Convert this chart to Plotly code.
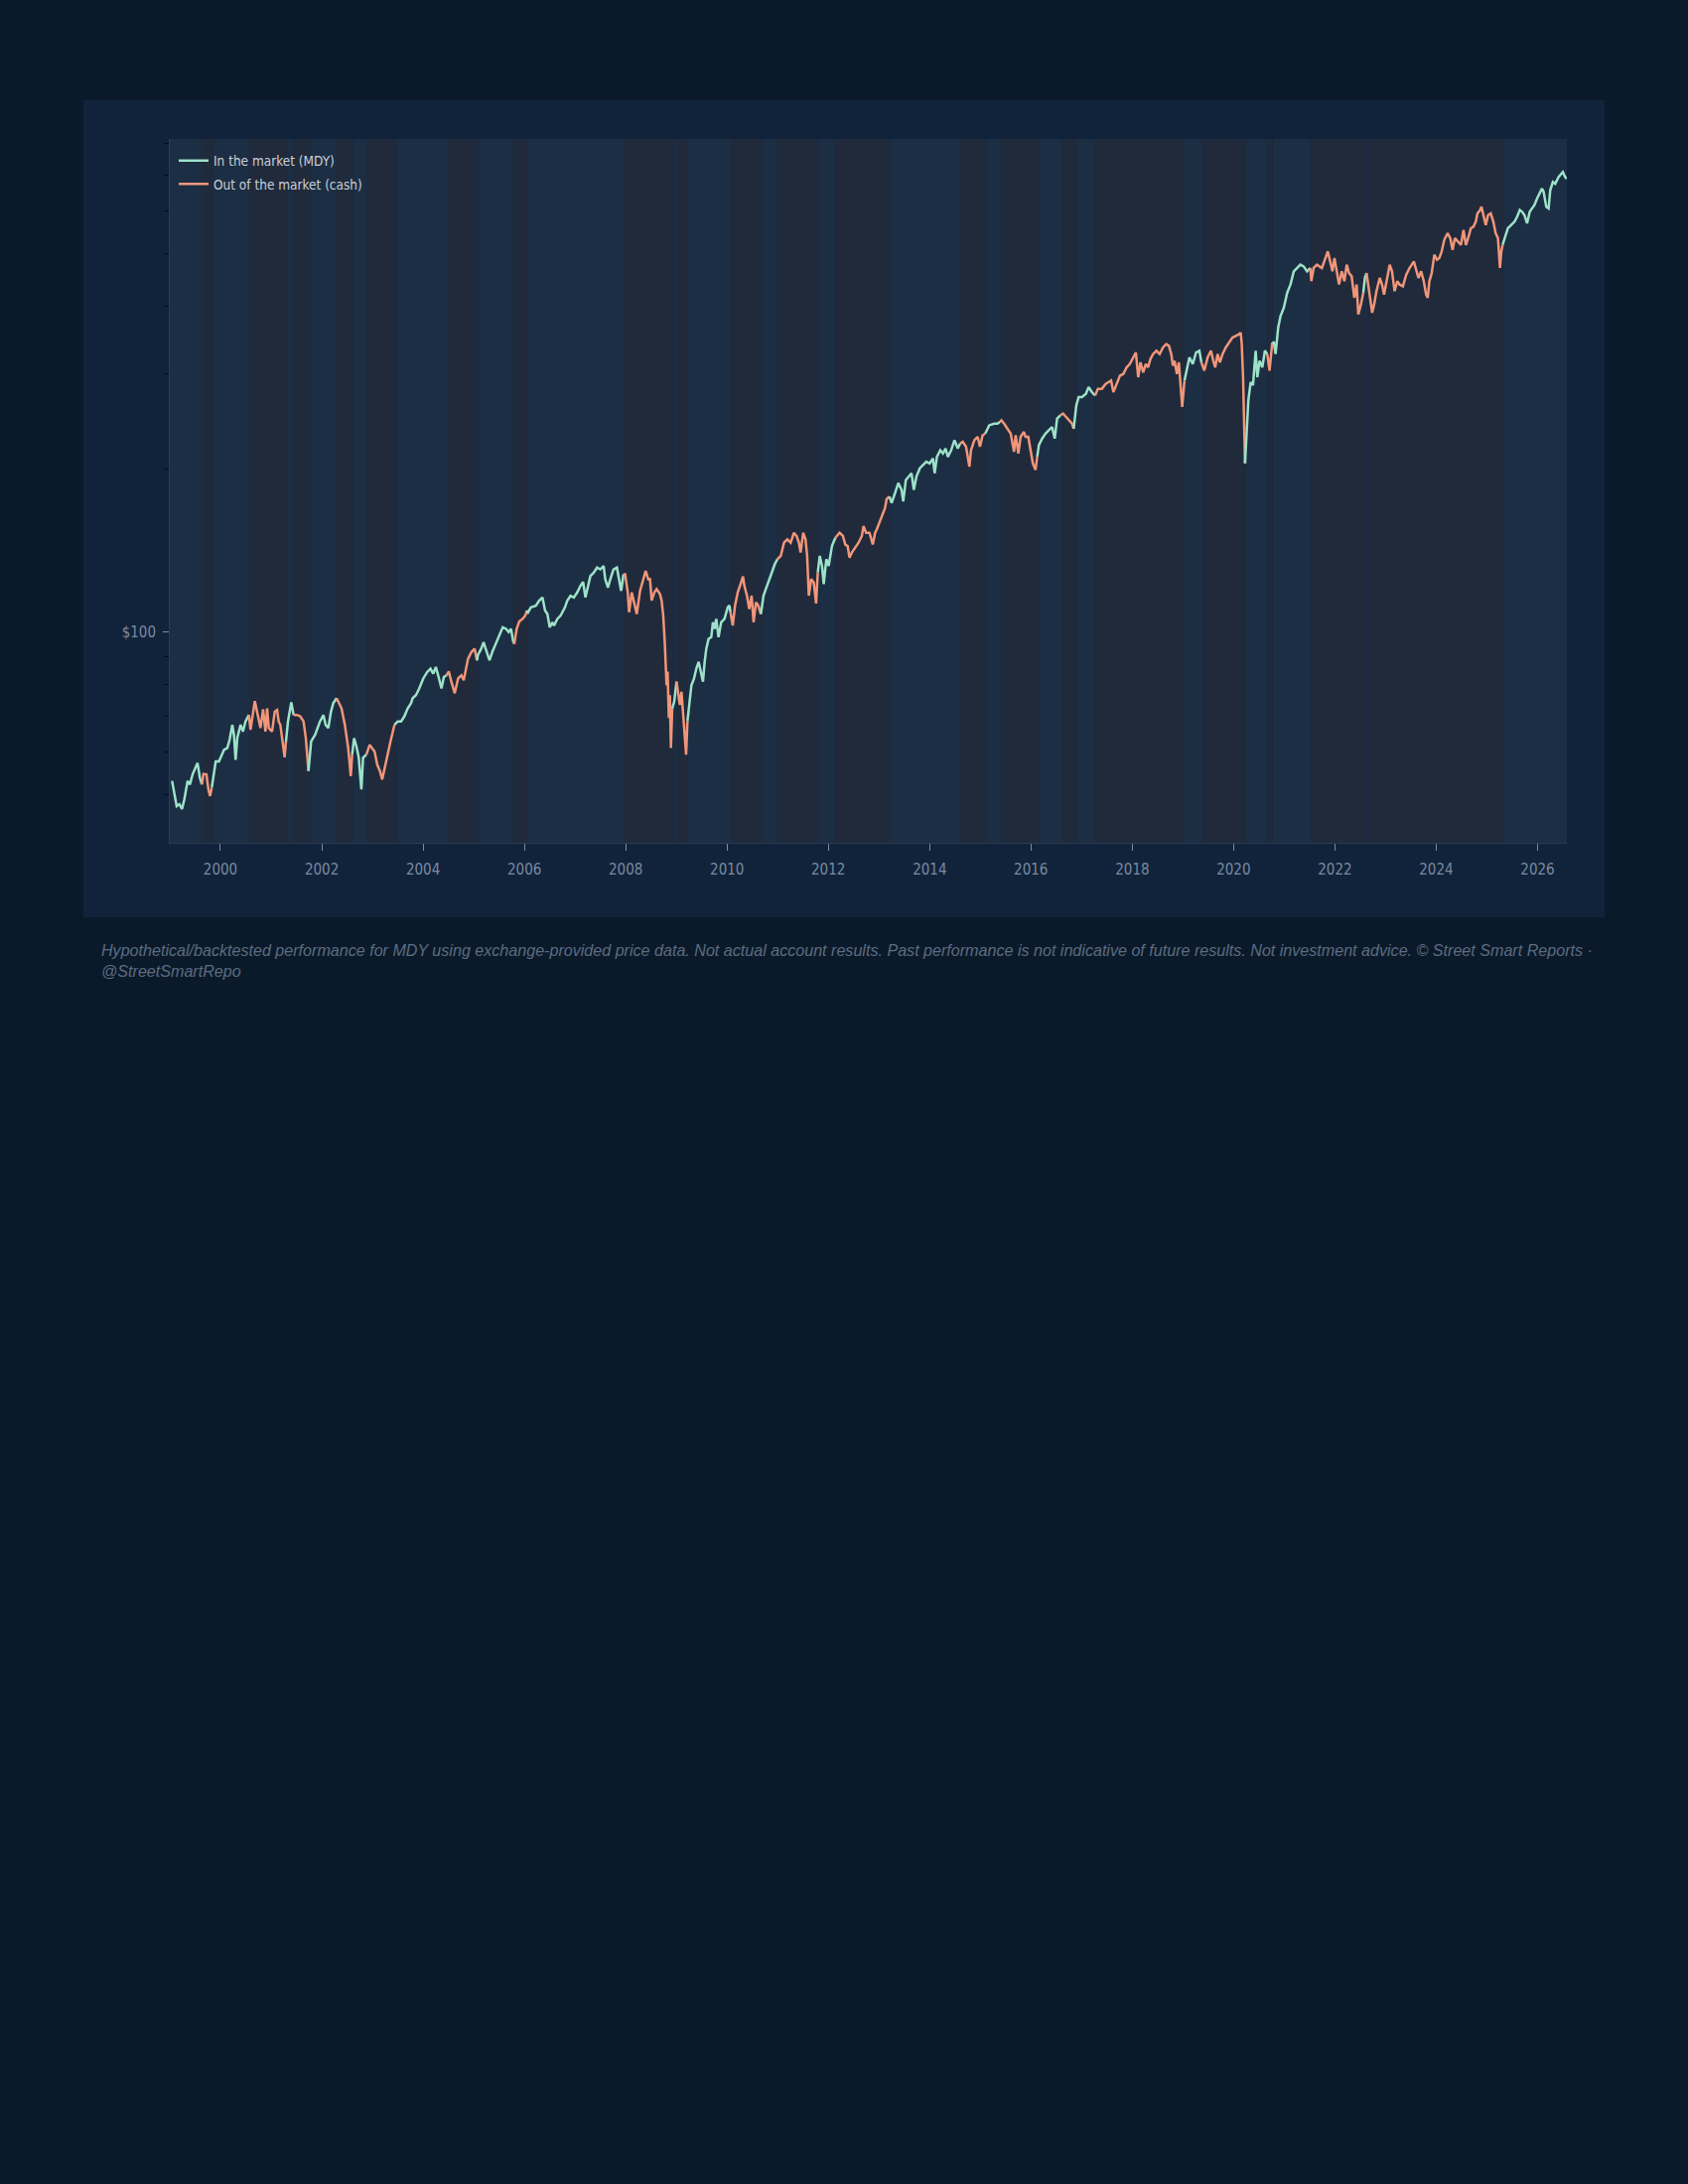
import pandas as pd
import plotly.graph_objects as go

# ---------------- data ----------------
years = [
    1999.045, 1999.090, 1999.136, 1999.189, 1999.241, 1999.287, 1999.352, 1999.398, 1999.450, 1999.548,
    1999.594, 1999.633, 1999.665, 1999.724, 1999.763, 1999.796, 1999.829, 1999.861, 1999.907, 1999.972,
    2000.025, 2000.071, 2000.136, 2000.182, 2000.234, 2000.267, 2000.299, 2000.332, 2000.397, 2000.443,
    2000.495, 2000.561, 2000.593, 2000.678, 2000.724, 2000.789, 2000.841, 2000.887, 2000.920, 2000.953,
    2001.018, 2001.070, 2001.116, 2001.148, 2001.181, 2001.227, 2001.266, 2001.292, 2001.332, 2001.397,
    2001.443, 2001.508, 2001.573, 2001.639, 2001.684, 2001.737, 2001.789, 2001.867, 2001.965,
    2002.031, 2002.076, 2002.129, 2002.181, 2002.227, 2002.292, 2002.338, 2002.390, 2002.455, 2002.521,
    2002.573, 2002.599, 2002.638, 2002.684, 2002.730, 2002.782, 2002.815, 2002.880, 2002.945, 2002.991,
    2003.043, 2003.095, 2003.148, 2003.193, 2003.239, 2003.292, 2003.357, 2003.435, 2003.501, 2003.566,
    2003.631, 2003.697, 2003.762, 2003.795, 2003.860, 2003.925,
    2004.004, 2004.082, 2004.147, 2004.200, 2004.252, 2004.298, 2004.363, 2004.409, 2004.461, 2004.507,
    2004.559, 2004.624, 2004.690, 2004.755, 2004.801, 2004.853, 2004.886, 2004.951,
    2005.016, 2005.062, 2005.082, 2005.147, 2005.193, 2005.245, 2005.310, 2005.363, 2005.428, 2005.506,
    2005.572, 2005.637, 2005.689, 2005.735, 2005.781, 2005.800, 2005.846, 2005.898, 2005.964,
    2006.016, 2006.049, 2006.072, 2006.127, 2006.225, 2006.290, 2006.356, 2006.408, 2006.454, 2006.499,
    2006.552, 2006.584, 2006.650, 2006.715, 2006.800, 2006.846, 2006.911, 2006.976,
    2007.042, 2007.107, 2007.159, 2007.205, 2007.257, 2007.303, 2007.368, 2007.434, 2007.499, 2007.564,
    2007.597, 2007.649, 2007.695, 2007.760, 2007.826, 2007.858, 2007.911, 2007.956, 2007.989,
    2008.041, 2008.067, 2008.120, 2008.172, 2008.218, 2008.283, 2008.349, 2008.394, 2008.446, 2008.479,
    2008.512, 2008.564, 2008.610, 2008.675, 2008.708, 2008.740, 2008.773, 2008.793, 2008.806, 2008.825,
    2008.851, 2008.871, 2008.891, 2008.917, 2008.956,
    2009.002, 2009.034, 2009.067, 2009.100, 2009.132, 2009.165, 2009.191, 2009.217, 2009.250, 2009.296,
    2009.348, 2009.394, 2009.439, 2009.492, 2009.524, 2009.557, 2009.590, 2009.635, 2009.688, 2009.720,
    2009.753, 2009.786, 2009.831, 2009.884, 2009.949,
    2010.014, 2010.047, 2010.067, 2010.112, 2010.158, 2010.210, 2010.276, 2010.315, 2010.341, 2010.393,
    2010.439, 2010.485, 2010.524, 2010.570, 2010.615, 2010.668, 2010.720, 2010.766, 2010.831, 2010.896,
    2010.942, 2010.994,
    2011.060, 2011.125, 2011.190, 2011.256, 2011.321, 2011.373, 2011.419, 2011.452, 2011.504, 2011.550,
    2011.582, 2011.615, 2011.661, 2011.713, 2011.759, 2011.792, 2011.831, 2011.876, 2011.909, 2011.961,
    2012.007, 2012.072, 2012.138, 2012.170, 2012.223, 2012.288, 2012.334, 2012.380, 2012.419, 2012.464,
    2012.530, 2012.595, 2012.660, 2012.693, 2012.745, 2012.811, 2012.876, 2012.922, 2012.955,
    2013.020, 2013.072, 2013.118, 2013.150, 2013.203, 2013.248, 2013.314, 2013.379, 2013.444, 2013.477,
    2013.529, 2013.575, 2013.640, 2013.686, 2013.738, 2013.804, 2013.869, 2013.934,
    2014.000, 2014.065, 2014.098, 2014.143, 2014.209, 2014.261, 2014.313, 2014.359, 2014.424, 2014.490,
    2014.555, 2014.601, 2014.653, 2014.718, 2014.784, 2014.816, 2014.882, 2014.947, 2014.993,
    2015.045, 2015.097, 2015.123, 2015.176, 2015.274, 2015.339, 2015.385, 2015.417, 2015.470, 2015.535,
    2015.600, 2015.666, 2015.698, 2015.751, 2015.796, 2015.862, 2015.894, 2015.947, 2015.992,
    2016.038, 2016.090, 2016.123, 2016.156, 2016.221, 2016.286, 2016.352, 2016.417, 2016.469, 2016.515,
    2016.580, 2016.633, 2016.692, 2016.744, 2016.809, 2016.842, 2016.894, 2016.940,
    2017.005, 2017.084, 2017.136, 2017.201, 2017.266, 2017.319, 2017.397, 2017.475, 2017.528, 2017.580,
    2017.626, 2017.691, 2017.756, 2017.822, 2017.887, 2017.952,
    2018.018, 2018.070, 2018.116, 2018.161, 2018.214, 2018.266, 2018.312, 2018.357, 2018.410, 2018.475,
    2018.540, 2018.606, 2018.671, 2018.723, 2018.769, 2018.802, 2018.834, 2018.880, 2018.919, 2018.965,
    2018.985,
    2019.030, 2019.076, 2019.128, 2019.194, 2019.259, 2019.324, 2019.364, 2019.422, 2019.488, 2019.553,
    2019.599, 2019.638, 2019.684, 2019.729, 2019.782, 2019.847, 2019.912, 2019.978,
    2020.043, 2020.108, 2020.141, 2020.161, 2020.187, 2020.206, 2020.226, 2020.252, 2020.291, 2020.337,
    2020.383, 2020.435, 2020.468, 2020.513, 2020.566, 2020.618, 2020.664, 2020.709, 2020.762, 2020.794,
    2020.827, 2020.879, 2020.925, 2020.990,
    2021.056, 2021.121, 2021.186, 2021.252, 2021.317, 2021.382, 2021.448, 2021.513, 2021.533, 2021.578,
    2021.644, 2021.742, 2021.807, 2021.859, 2021.905, 2021.951, 2021.990,
    2022.036, 2022.081, 2022.134, 2022.186, 2022.232, 2022.277, 2022.330, 2022.382, 2022.428, 2022.461,
    2022.513, 2022.559, 2022.591, 2022.624, 2022.656, 2022.689, 2022.735, 2022.774, 2022.820, 2022.885,
    2022.931, 2022.970,
    2023.016, 2023.081, 2023.127, 2023.179, 2023.231, 2023.277, 2023.342, 2023.408, 2023.473, 2023.558,
    2023.604, 2023.649, 2023.702, 2023.754, 2023.800, 2023.832, 2023.865, 2023.911, 2023.963,
    2024.015, 2024.061, 2024.107, 2024.159, 2024.224, 2024.277, 2024.322, 2024.368, 2024.420, 2024.486,
    2024.538, 2024.584, 2024.629, 2024.682, 2024.734, 2024.780, 2024.812, 2024.865, 2024.891, 2024.930,
    2024.976,
    2025.021, 2025.074, 2025.126, 2025.172, 2025.217, 2025.257, 2025.283, 2025.309, 2025.368, 2025.413,
    2025.479, 2025.544, 2025.596, 2025.649, 2025.694, 2025.740, 2025.792, 2025.845, 2025.891, 2025.936,
    2025.989,
    2026.041, 2026.087, 2026.119, 2026.171, 2026.217, 2026.250, 2026.302, 2026.348, 2026.413, 2026.459,
    2026.498, 2026.544, 2026.577,
]

values = [
    53.1, 50.2, 47.7, 48.1, 47.1, 49.1, 53.1, 52.3, 54.6, 57.3,
    53.8, 52.3, 54.7, 54.6, 51.2, 49.8, 51.6, 54.2, 57.7, 57.7,
    59.4, 60.6, 61.1, 63.3, 67.4, 64.6, 58.1, 63.7, 67.4, 65.5,
    68.4, 70.3, 66.0, 74.6, 71.3, 66.5, 72.0, 65.5, 72.3, 66.5,
    65.5, 71.3, 71.8, 68.4, 67.4, 62.8, 58.7, 62.8, 68.4, 74.2,
    70.3, 70.3, 69.9, 68.4, 63.7, 55.4, 62.8, 64.6, 68.4,
    70.3, 67.4, 66.5, 71.3, 73.9, 75.5, 73.9, 72.3, 67.4, 61.1,
    54.2, 59.4, 63.7, 61.5, 58.6, 51.2, 58.6, 59.4, 61.9, 61.1,
    60.2, 56.9, 55.4, 53.4, 56.1, 58.6, 62.8, 67.4, 68.4, 68.4,
    69.9, 72.3, 73.9, 75.5, 76.5, 78.7,
    82.1, 84.4, 85.6, 83.8, 86.2, 83.2, 78.7, 82.6, 83.2, 84.6,
    80.9, 77.1, 82.1, 83.2, 81.5, 85.6, 89.3, 91.8,
    93.2, 88.7, 90.8, 93.2, 95.8, 92.5, 88.7, 91.8, 95.1, 98.6,
    102.1, 101.4, 100.0, 101.4, 95.8, 95.1, 101.4, 104.6, 105.8,
    107.3, 109.6, 108.8, 111.1, 111.9, 114.3, 115.9, 109.6, 108.0, 102.1,
    104.3, 102.8, 105.8, 107.3, 111.1, 114.3, 116.7, 115.9,
    118.4, 121.8, 123.8, 115.9, 120.9, 127.0, 128.8, 131.6, 130.6, 132.5,
    125.2, 120.9, 125.2, 130.6, 131.6, 127.0, 119.2, 127.9, 127.9,
    118.4, 108.8, 118.4, 112.7, 108.0, 119.2, 126.1, 129.7, 125.2, 125.3,
    114.4, 118.4, 120.1, 117.6, 114.4, 107.3, 94.5, 85.7, 79.8, 84.5,
    69.4, 76.5, 61.1, 72.3, 74.4,
    81.0, 77.6, 73.4, 77.6, 71.3, 65.6, 59.4, 68.4, 73.4, 79.8,
    82.1, 85.7, 88.1, 82.7, 81.0, 88.1, 93.2, 97.2, 97.9, 104.3,
    101.4, 105.8, 97.9, 104.3, 105.8,
    111.2, 112.0, 108.8, 102.9, 112.0, 118.4, 123.5, 126.7, 121.8, 116.8,
    110.3, 116.8, 104.3, 113.5, 112.0, 108.0, 116.8, 120.1, 124.4, 129.8,
    133.5, 136.4,
    138.3, 146.3, 148.4, 146.3, 152.6, 150.5, 146.3, 140.3, 152.6, 148.4,
    138.3, 116.8, 125.3, 123.5, 113.0, 128.9, 138.3, 132.5, 122.7, 136.4,
    132.5, 144.2, 149.4, 150.5, 152.6, 150.5, 145.2, 144.2, 137.3, 140.3,
    143.2, 146.3, 150.5, 157.0, 152.6, 152.6, 145.2, 152.6, 154.8,
    160.3, 166.1, 169.6, 176.2, 178.1, 173.2, 180.6, 188.5, 183.2, 174.4,
    191.1, 193.8, 196.6, 183.2, 193.8, 200.8, 203.6, 206.5,
    205.0, 209.4, 196.6, 210.9, 216.9, 213.9, 218.4, 210.9, 216.9, 226.3,
    218.4, 223.1, 224.7, 220.0, 202.2, 216.9, 226.3, 229.5, 220.0,
    231.1, 232.7, 236.1, 241.1, 242.8, 242.8, 244.5, 246.2, 242.8, 237.6,
    232.7, 215.4, 231.1, 213.9, 229.5, 234.4, 229.5, 229.5, 218.4,
    205.0, 199.4, 210.9, 221.6, 227.9, 232.7, 236.1, 239.3, 227.9, 248.1,
    251.6, 253.4, 249.8, 246.2, 242.8, 237.6, 262.4, 271.8,
    271.8, 275.6, 283.6, 277.6, 273.7, 281.6, 281.6, 287.5, 289.6, 291.6,
    277.6, 287.5, 297.8, 299.9, 308.5, 313.0,
    321.8, 328.7, 295.8, 315.1, 302.0, 312.9, 308.5, 319.6, 326.4, 331.1,
    326.4, 335.8, 340.5, 338.1, 326.4, 310.8, 317.3, 299.9, 315.1, 279.6,
    260.6,
    291.7, 304.3, 321.8, 312.9, 328.7, 331.1, 315.1, 304.3, 321.8, 331.1,
    317.3, 308.5, 326.4, 315.1, 326.4, 335.8, 342.9, 350.1,
    352.7, 355.1, 357.7, 340.5, 295.8, 249.8, 205.1, 226.4, 268.0, 289.7,
    286.0, 331.1, 295.8, 317.3, 308.5, 331.1, 326.4, 304.3, 342.9, 342.9,
    326.4, 365.4, 383.8, 397.6,
    423.6, 438.8, 464.1, 470.8, 477.5, 474.0, 464.1, 470.8, 445.1, 470.8,
    477.5, 470.8, 491.2, 505.2, 484.3, 464.1, 491.2,
    464.1, 438.8, 464.1, 445.1, 477.5, 460.8, 454.4, 414.8, 438.8, 386.6,
    403.2, 423.6, 451.2, 460.8, 438.6, 414.7, 389.2, 403.2, 426.6, 451.2,
    438.6, 420.6,
    445.0, 477.4, 464.1, 426.6, 445.0, 438.6, 435.5, 457.6, 470.7, 484.2,
    467.3, 451.2, 464.1, 445.0, 420.6, 414.7, 445.0, 460.8, 497.9,
    487.6, 491.1, 505.0, 530.8, 545.8, 534.4, 508.3, 534.4, 526.6, 519.3,
    553.4, 519.3, 534.4, 557.4, 561.3, 573.3, 593.9, 602.4, 610.9, 589.6,
    565.3,
    589.6, 593.9, 573.3, 545.8, 534.4, 470.7, 505.0, 519.3, 542.0, 557.4,
    565.3, 573.3, 585.6, 602.4, 598.1, 589.6, 569.3, 598.1, 606.7, 615.1,
    632.7,
    646.3, 660.1, 650.9, 610.9, 606.7, 655.4, 678.7, 673.8, 693.2, 703.1,
    708.2, 693.2, 688.0,
]

# market regimes: start date of each period and its state
regime_starts = [
    "1999-01-01", "1999-08-25", "1999-11-10", "2000-08-02", "2001-04-22", "2001-06-12",
    "2001-10-10", "2002-04-20", "2002-08-16", "2002-11-30", "2003-06-19", "2004-07-02",
    "2005-01-30", "2005-10-16", "2006-01-27", "2007-12-26", "2008-12-13", "2009-01-13",
    "2009-03-24", "2010-01-28", "2010-09-17", "2011-01-05", "2011-10-23", "2012-02-24",
    "2013-03-20", "2014-08-09", "2015-02-14", "2015-05-29", "2016-02-27", "2016-08-19",
    "2016-11-23", "2017-04-10", "2019-01-13", "2019-05-23", "2020-03-28", "2020-09-02",
    "2020-10-08", "2021-07-14", "2022-08-01", "2022-08-26", "2025-04-27",
]
regime_state = [
    "in", "out", "in", "out", "in", "out", "in", "out", "in", "out", "in", "out",
    "in", "out", "in", "out", "in", "out", "in", "out", "in", "out", "in", "out",
    "in", "out", "in", "out", "in", "out", "in", "out", "in", "out", "in", "out",
    "in", "out", "in", "out", "in",
]
regime_end = "2026-07-31"

x_ticks = [str(y) for y in range(2000, 2027, 2)]
y_major = [100]
y_major_text = ["$100"]
y_minor = [50, 60, 70, 80, 90, 200, 300, 400, 500, 600, 700, 800]

labels = {"in": "In the market (MDY)", "out": "Out of the market (cash)"}
footnote = ("Hypothetical/backtested performance for MDY using exchange-provided price data. Not actual "
            "account results. Past performance is not indicative of future results. Not investment advice. "
            "\u00a9 Street Smart Reports \u00b7<br>@StreetSmartRepo")

# ---------------- styling ----------------
PAGE_BG = "#0b1a2a"
CARD_BG = "#11233b"
BAND = {"in": "#1c2e44", "out": "#212a3b"}
LINE = {"in": "#9de2c8", "out": "#f0967a"}
TICK_COL = "#7a8aa0"
FONT = "DejaVu Sans Condensed, Liberation Sans Narrow, DejaVu Sans, sans-serif"

W, H = 1700, 2200
L, R, T, B = 171, 1578, 140, 849  # plot area in pixels


def to_date(y):
    yr = int(y)
    start = pd.Timestamp(year=yr, month=1, day=1)
    days = (pd.Timestamp(year=yr + 1, month=1, day=1) - start).days
    return start + pd.Timedelta(days=(y - yr) * days)


def px_x(X):
    return (X - L) / (R - L)


def px_y(Y):
    return (B - Y) / (B - T)


dates = [to_date(y) for y in years]
starts = [pd.Timestamp(s) for s in regime_starts]
ends = starts[1:] + [pd.Timestamp(regime_end)]

fig = go.Figure()

shapes = [dict(type="rect", xref="paper", yref="paper",
               x0=px_x(84), x1=px_x(1616), y0=px_y(924), y1=px_y(101),
               fillcolor=CARD_BG, line=dict(width=0), layer="below")]

shown = set()
for s, e, st in zip(starts, ends, regime_state):
    shapes.append(dict(type="rect", xref="x", yref="paper", x0=s, x1=e, y0=0, y1=1,
                       fillcolor=BAND[st], line=dict(width=0), layer="below"))
    idx = [k for k, d in enumerate(dates) if s <= d < e]
    if not idx:
        continue
    if idx[0] > 0:
        idx = [idx[0] - 1] + idx
    fig.add_trace(go.Scatter(
        x=[dates[k] for k in idx], y=[values[k] for k in idx],
        mode="lines", line=dict(color=LINE[st], width=2.5),
        name=labels[st], legendgroup=st, showlegend=st not in shown,
        hoverinfo="skip"))
    shown.add(st)

fig.update_layout(
    width=W, height=H,
    margin=dict(l=L, r=W - R, t=T, b=H - B, pad=0),
    paper_bgcolor=PAGE_BG, plot_bgcolor=BAND["in"],
    shapes=shapes,
    showlegend=True,
    legend=dict(x=px_x(175), y=px_y(146.5), xanchor="left", yanchor="top",
                bgcolor="rgba(0,0,0,0)", borderwidth=0,
                font=dict(family=FONT, size=13.5, color="#c7cfd9"),
                tracegroupgap=3, itemwidth=30),
    xaxis=dict(type="date", range=[pd.Timestamp("1999-01-01"), pd.Timestamp(regime_end)],
               tickmode="array", tickvals=[pd.Timestamp(f"{t}-01-01") for t in x_ticks],
               ticktext=x_ticks, ticks="outside", ticklen=7, tickwidth=1, tickcolor=TICK_COL,
               ticklabelstandoff=6,
               tickfont=dict(family=FONT, size=15, color=TICK_COL),
               showgrid=False, zeroline=False, showline=True, linecolor="#2b3b51", linewidth=1),
    yaxis=dict(type="log", range=[1.6107, 2.9112],
               tickmode="array", tickvals=y_major, ticktext=y_major_text,
               ticks="outside", ticklen=6, tickwidth=1, tickcolor=TICK_COL,
               ticklabelstandoff=4,
               tickfont=dict(family=FONT, size=15, color=TICK_COL),
               minor=dict(tickmode="array", tickvals=y_minor, ticks="outside", ticklen=4,
                          tickwidth=1, tickcolor="#03080e", showgrid=False),
               showgrid=False, zeroline=False, showline=True, linecolor="#2b3b51", linewidth=1),
    annotations=[dict(xref="paper", yref="paper", x=px_x(100), y=px_y(946),
                      xanchor="left", yanchor="top", align="left", showarrow=False,
                      text=footnote,
                      font=dict(family="Liberation Sans, Arial, sans-serif", size=16.1,
                                color="#5c6c81", style="italic"))],
)

fig.write_html("out.html", config={"displayModeBar": False}, post_script=(
    "document.body.style.margin='0';document.body.style.background='%s';"
    "document.body.style.overflow='hidden';" % PAGE_BG))
